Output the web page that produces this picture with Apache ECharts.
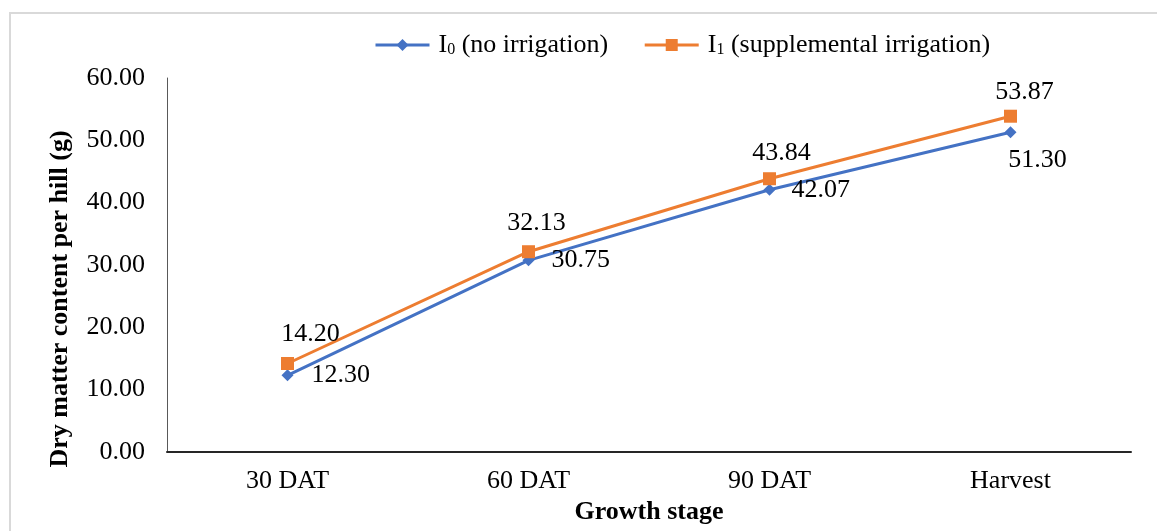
<!DOCTYPE html>
<html>
<head>
<meta charset="utf-8">
<script src="https://cdn.jsdelivr.net/npm/echarts@6/dist/echarts.min.js"></script>
<style>
  html, body { margin: 0; padding: 0; background: #fff; }
  #chart { width: 1157px; height: 531px; }
</style>
</head>
<body>
<div id="chart"></div>
<script>
// Growth stages on the x axis
const stages = ['30 DAT', '60 DAT', '90 DAT', 'Harvest'];
// Dry matter content per hill (g)
const noIrrigation = [12.30, 30.75, 42.07, 51.30];
const supplementalIrrigation = [14.20, 32.13, 43.84, 53.87];
// Value axis range
const yMin = 0, yMax = 60, yStep = 10;

const FONT = '"Liberation Serif", "Times New Roman", serif';
const BLUE = '#4472C4';
const ORANGE = '#ED7D31';

// label placement for each point (kept apart from the values)
const blueLabelLayout = [
  { position: 'right', distance: 18, offset: [0, 0] },
  { position: 'right', distance: 17, offset: [0, 0] },
  { position: 'right', distance: 16, offset: [0, 0] },
  { position: 'bottom', distance: 9, offset: [27, 0] }
];
const orangeLabelLayout = [
  { position: 'top', distance: 7, offset: [23, -3] },
  { position: 'top', distance: 7, offset: [8, -2] },
  { position: 'top', distance: 7, offset: [12, 1] },
  { position: 'top', distance: 7, offset: [14, 2] }
];

function withLabels(values, layout) {
  return values.map((v, i) => ({ value: v, label: layout[i] }));
}

const labelText = {
  show: true,
  color: '#000',
  fontFamily: FONT,
  fontSize: 26,
  formatter: p => Number(p.value).toFixed(2)
};

const chart = echarts.init(document.getElementById('chart'), null, { renderer: 'canvas' });

chart.setOption({
  backgroundColor: '#fff',
  animation: false,
  textStyle: { fontFamily: FONT, color: '#000' },
  graphic: [
    {
      type: 'rect',
      silent: true,
      shape: { x: 10, y: 13, width: 1400, height: 700 },
      style: { fill: 'none', stroke: '#d9d9d9', lineWidth: 2 }
    },
    {
      type: 'text',
      silent: true,
      x: 60,
      y: 299,
      rotation: Math.PI / 2,
      style: {
        text: 'Dry matter content per hill (g)',
        font: 'bold 26px ' + FONT,
        fill: '#000',
        align: 'center',
        verticalAlign: 'middle'
      }
    }
  ],
  legend: {
    left: 374,
    top: 32,
    padding: 0,
    itemWidth: 54,
    itemHeight: 15,
    itemGap: 35,
    lineStyle: { width: 3 },
    data: ['I0 (no irrigation)', 'I1 (supplemental irrigation)'],
    formatter: name => {
      const sub = name.charAt(1);
      const rest = name.slice(2);
      return '{i|I}{s|' + sub + '}{t|' + rest + '}';
    },
    textStyle: {
      color: '#000',
      fontFamily: FONT,
      fontSize: 26,
      padding: [0, 0, 0, 4],
      rich: {
        i: { fontFamily: FONT, fontSize: 26, color: '#000' },
        s: { fontFamily: FONT, fontSize: 16, color: '#000', verticalAlign: 'bottom' },
        t: { fontFamily: FONT, fontSize: 26, color: '#000' }
      }
    }
  },
  grid: { left: 167, right: 26, top: 78, bottom: 79, containLabel: false },
  xAxis: {
    type: 'category',
    data: stages,
    boundaryGap: true,
    name: 'Growth stage',
    nameLocation: 'middle',
    nameGap: 47,
    nameTextStyle: { fontFamily: FONT, fontSize: 26, fontWeight: 'bold', color: '#000' },
    axisLine: { lineStyle: { color: '#262626', width: 2 } },
    axisTick: { show: false },
    axisLabel: { color: '#000', fontFamily: FONT, fontSize: 26, margin: 16 },
    splitLine: { show: false }
  },
  yAxis: {
    type: 'value',
    min: yMin,
    max: yMax,
    interval: yStep,
    axisLine: { show: true, lineStyle: { color: '#595959', width: 1 } },
    axisTick: { show: false },
    splitLine: { show: false },
    axisLabel: {
      color: '#000',
      fontFamily: FONT,
      fontSize: 26,
      margin: 22,
      formatter: v => v.toFixed(2)
    }
  },
  series: [
    {
      name: 'I0 (no irrigation)',
      type: 'line',
      data: withLabels(noIrrigation, blueLabelLayout),
      symbol: 'diamond',
      symbolSize: 12,
      itemStyle: { color: BLUE },
      lineStyle: { color: BLUE, width: 3 },
      label: labelText,
      z: 2
    },
    {
      name: 'I1 (supplemental irrigation)',
      type: 'line',
      data: withLabels(supplementalIrrigation, orangeLabelLayout),
      symbol: 'rect',
      symbolSize: 13,
      itemStyle: { color: ORANGE },
      lineStyle: { color: ORANGE, width: 3 },
      label: labelText,
      z: 3
    }
  ]
});
</script>
</body>
</html>
